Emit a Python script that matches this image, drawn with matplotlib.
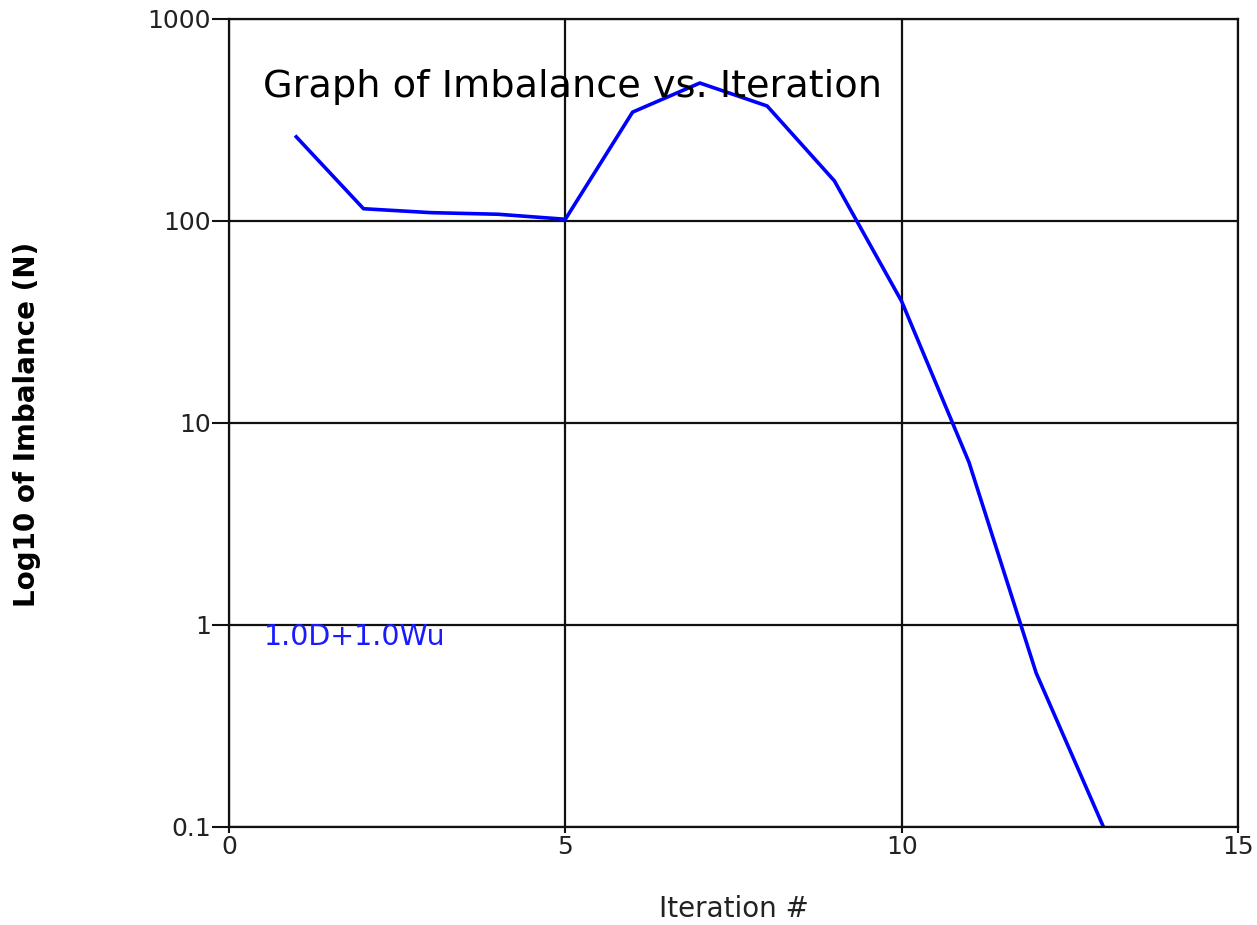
import matplotlib
matplotlib.use("Agg")
import matplotlib.pyplot as plt
from matplotlib.ticker import FixedLocator, FixedFormatter, NullLocator

iterations = [1, 2, 3, 4, 5, 6, 7, 8, 9, 10, 11, 12, 13]
imbalance = [261, 115, 110, 108, 102, 346, 482, 371, 158, 40.0, 6.4, 0.578, 0.1]
y_ticks = [0.1, 1, 10, 100, 1000]
y_tick_labels = ["0.1", "1", "10", "100", "1000"]
x_ticks = [0, 5, 10, 15]
x_tick_labels = ["0", "5", "10", "15"]
series_label = "1.0D+1.0Wu"
title = "Graph of Imbalance vs. Iteration"
x_label = "Iteration #"
y_label = "Log10 of Imbalance (N)"

plt.rcParams['font.family'] = ['DejaVu Sans']

fig = plt.figure(figsize=(12.57, 9.25), dpi=100)
ax = fig.add_axes([229/1257, 1 - 827/925, (1238-229)/1257, (827-19)/925])

ax.plot(iterations, imbalance, color=(0, 0, 1), lw=2.6, solid_joinstyle='round')

ax.set_yscale('log')
ax.set_xlim(0, 15)
ax.set_ylim(0.1, 1000)

ax.yaxis.set_major_locator(FixedLocator(y_ticks))
ax.yaxis.set_major_formatter(FixedFormatter(y_tick_labels))
ax.yaxis.set_minor_locator(NullLocator())
ax.xaxis.set_major_locator(FixedLocator(x_ticks))
ax.xaxis.set_major_formatter(FixedFormatter(x_tick_labels))
ax.xaxis.set_minor_locator(NullLocator())

ax.grid(True, which='major', color='#111111', lw=1.6)
ax.set_axisbelow(True)
for s in ['left', 'bottom', 'top', 'right']:
    ax.spines[s].set_color('#111111')
    ax.spines[s].set_linewidth(1.6)

ax.tick_params(axis='y', direction='out', length=12, width=1.5, pad=1,
               labelsize=18, colors='#111111', labelcolor='#222222')
ax.tick_params(axis='x', direction='out', length=4, width=1.5, pad=2,
               labelsize=18, colors='#111111', labelcolor='#222222')

ax.text(0.0337, 0.9035, title, transform=ax.transAxes, fontsize=27.5,
        ha='left', va='baseline', color='black')
ax.text(0.0347, 0.2252, series_label, transform=ax.transAxes, fontsize=20.5,
        ha='left', va='baseline', color=(0.1, 0.1, 1))

fig.text(27/1257, 1 - 424/925, y_label, rotation=90, ha='center', va='center',
         fontsize=20, fontweight='bold', color='black')
fig.text(733.5/1257, 1 - 909/925, x_label, ha='center', va='center',
         fontsize=20, color='#222222')

fig.savefig("out.png", dpi=100)
